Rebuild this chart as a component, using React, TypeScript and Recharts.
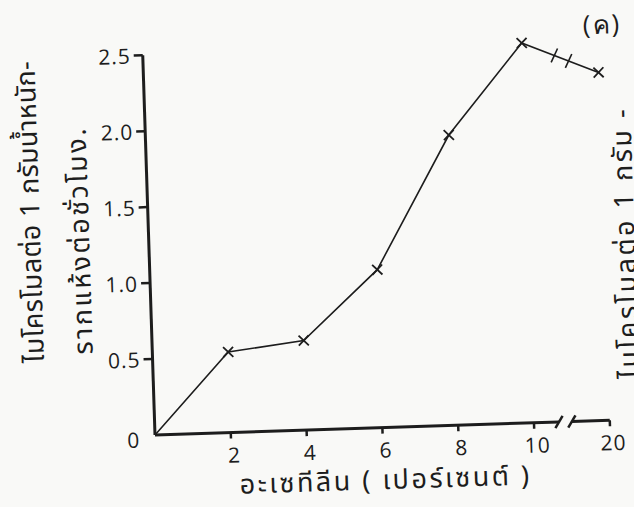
import { LineChart, Line, XAxis, YAxis, ReferenceLine } from 'recharts';

// acetylene concentration (%) vs. ethylene produced
const acetylenePct = [0, 2, 4, 6, 8, 10, 20];
const ethyleneRate = [0, 0.53, 0.59, 1.04, 1.91, 2.5, 2.29];
const xTickValues = [2, 4, 6, 8, 10, 20];
const yTickValues = [0, 0.5, 1, 1.5, 2, 2.5];
const yTickLabels = ['0', '0.5', '1.0', '1.5', '2.0', '2.5'];

const xTitle = 'อะเซทีลีน ( เปอร์เซนต์ )';
const yTitleTop = 'ไมโครโมลต่อ 1 กรัมน้ำหนัก-';
const yTitleBottom = 'รากแห้งต่อชั่วโมง.';
const nextPanelTitle = 'ไมโครโมลต่อ 1 กรัม -';
const panelTag = '(ค)';

const INK = '#1d1d1d';
const PAPER = '#f9f9f7';
const NUM_FONT = "'Open Sans', 'Noto Sans', sans-serif";
const THAI_FONT = "'Noto Sans Thai', 'Noto Sans', sans-serif";

// the x axis is broken after 10 %, everything beyond is squeezed into the last 2 units
const BREAK_AT = 10;
const squeeze = (v: number) => (v <= BREAK_AT ? v : BREAK_AT + (v - BREAK_AT) / 5);

const data = acetylenePct.map((pct, i) => ({ pos: squeeze(pct), rate: ethyleneRate[i] }));

// point on the plotted line at a given squeezed x (for the break marks)
const lineAt = (pos: number) => {
  const i = data.findIndex((d) => d.pos >= pos);
  const a = data[i - 1];
  const b = data[i];
  return a.rate + ((pos - a.pos) / (b.pos - a.pos)) * (b.rate - a.rate);
};

const slash = (x: number, y: number, hx: number, hy: number) => [
  { x: x - hx, y: y - hy },
  { x: x + hx, y: y + hy },
];

const XTick = ({ x, y, payload }: any) => {
  const label = xTickValues.find((v) => squeeze(v) === payload.value);
  return (
    <g>
      <line x1={x} y1={y} x2={x} y2={y + 6} stroke={INK} strokeWidth={2.5} />
      <text x={x + 3} y={y + 30} textAnchor="middle" fontSize={21} letterSpacing={1} fill={INK} fontFamily={NUM_FONT}>
        {label}
      </text>
    </g>
  );
};

const YTick = ({ x, y, payload }: any) => {
  const label = yTickLabels[yTickValues.indexOf(payload.value)];
  if (payload.value === 0) {
    return (
      <text x={x - 22} y={y + 12} textAnchor="middle" fontSize={21} fill={INK} fontFamily={NUM_FONT}>
        {label}
      </text>
    );
  }
  return (
    <g>
      <line x1={x - 9} y1={y} x2={x} y2={y} stroke={INK} strokeWidth={2.5} />
      <text x={x - 12} y={y + 8} textAnchor="end" fontSize={21} letterSpacing={1} fill={INK} fontFamily={NUM_FONT}>
        {label}
      </text>
    </g>
  );
};

const CrossDot = ({ cx, cy, index }: any) => {
  if (index === 0) return <g key={`dot-${index}`} />;
  const r = 5;
  return (
    <g key={`dot-${index}`} stroke={INK} strokeWidth={1.8}>
      <line x1={cx - r} y1={cy - r} x2={cx + r} y2={cy + r} />
      <line x1={cx - r} y1={cy + r} x2={cx + r} y2={cy - r} />
    </g>
  );
};

const textBase: React.CSSProperties = {
  position: 'absolute',
  whiteSpace: 'nowrap',
  color: INK,
  fontFamily: THAI_FONT,
  lineHeight: 1,
};

const rotatedText = (left: number, top: number, size: number, spacing: number): React.CSSProperties => ({
  ...textBase,
  left,
  top,
  fontSize: size,
  letterSpacing: spacing,
  transform: 'translate(-50%, -50%) rotate(-90deg)',
});

export default function App() {
  return (
    <div style={{ position: 'fixed', left: 0, top: 0, width: 634, height: 507, overflow: 'hidden', background: PAPER }}>
      <div
        style={{
          position: 'absolute',
          left: 0,
          top: 0,
          width: 660,
          height: 507,
          transform: 'rotate(-1.85deg)',
          transformOrigin: '155px 435px',
        }}
      >
        <LineChart width={660} height={507} data={data} margin={{ top: 55, right: 50, bottom: 42, left: 95 }}>
          <XAxis
            dataKey="pos"
            type="number"
            domain={[0, 12]}
            ticks={xTickValues.map(squeeze)}
            axisLine={false}
            tickLine={false}
            tickSize={0}
            tickMargin={0}
            height={30}
            tick={<XTick />}
          />
          <YAxis
            type="number"
            domain={[0, 2.5]}
            ticks={yTickValues}
            width={60}
            axisLine={{ stroke: INK, strokeWidth: 3 }}
            tickLine={false}
            tickSize={0}
            tickMargin={0}
            tick={<YTick />}
          />
          {/* broken x axis */}
          <ReferenceLine segment={[{ x: 0, y: 0 }, { x: 10.66, y: 0 }]} stroke={INK} strokeWidth={3} ifOverflow="visible" />
          <ReferenceLine segment={[{ x: 11.0, y: 0 }, { x: 12, y: 0 }]} stroke={INK} strokeWidth={3} ifOverflow="visible" />
          <ReferenceLine segment={slash(10.66, 0, 0.1, 0.04)} stroke={INK} strokeWidth={2.5} ifOverflow="visible" />
          <ReferenceLine segment={slash(11.0, 0, 0.1, 0.04)} stroke={INK} strokeWidth={2.5} ifOverflow="visible" />
          {/* break marks on the curve */}
          <ReferenceLine segment={slash(10.85, lineAt(10.85), 0.09, 0.045)} stroke={INK} strokeWidth={1.6} ifOverflow="visible" />
          <ReferenceLine segment={slash(11.22, lineAt(11.22), 0.09, 0.045)} stroke={INK} strokeWidth={1.6} ifOverflow="visible" />
          <Line
            dataKey="rate"
            type="linear"
            stroke={INK}
            strokeWidth={1.6}
            dot={(p: any) => <CrossDot key={`dot-${p.index}`} {...p} />}
            activeDot={false}
            isAnimationActive={false}
          />
        </LineChart>
        <div style={rotatedText(38, 208, 27, 0.3)}>{yTitleTop}</div>
        <div style={rotatedText(87, 238, 27, 2.5)}>{yTitleBottom}</div>
        <div style={rotatedText(632, 258, 27, 2.5)}>{nextPanelTitle}</div>
        <div style={{ ...textBase, left: 384, top: 488, fontSize: 27, letterSpacing: 2.5, transform: 'translate(-50%, -50%)' }}>
          {xTitle}
        </div>
        <div style={{ ...textBase, left: 615, top: 38, fontSize: 26, letterSpacing: 2, fontFamily: NUM_FONT, transform: 'translate(-50%, -50%)' }}>
          {panelTag}
        </div>
      </div>
    </div>
  );
}
